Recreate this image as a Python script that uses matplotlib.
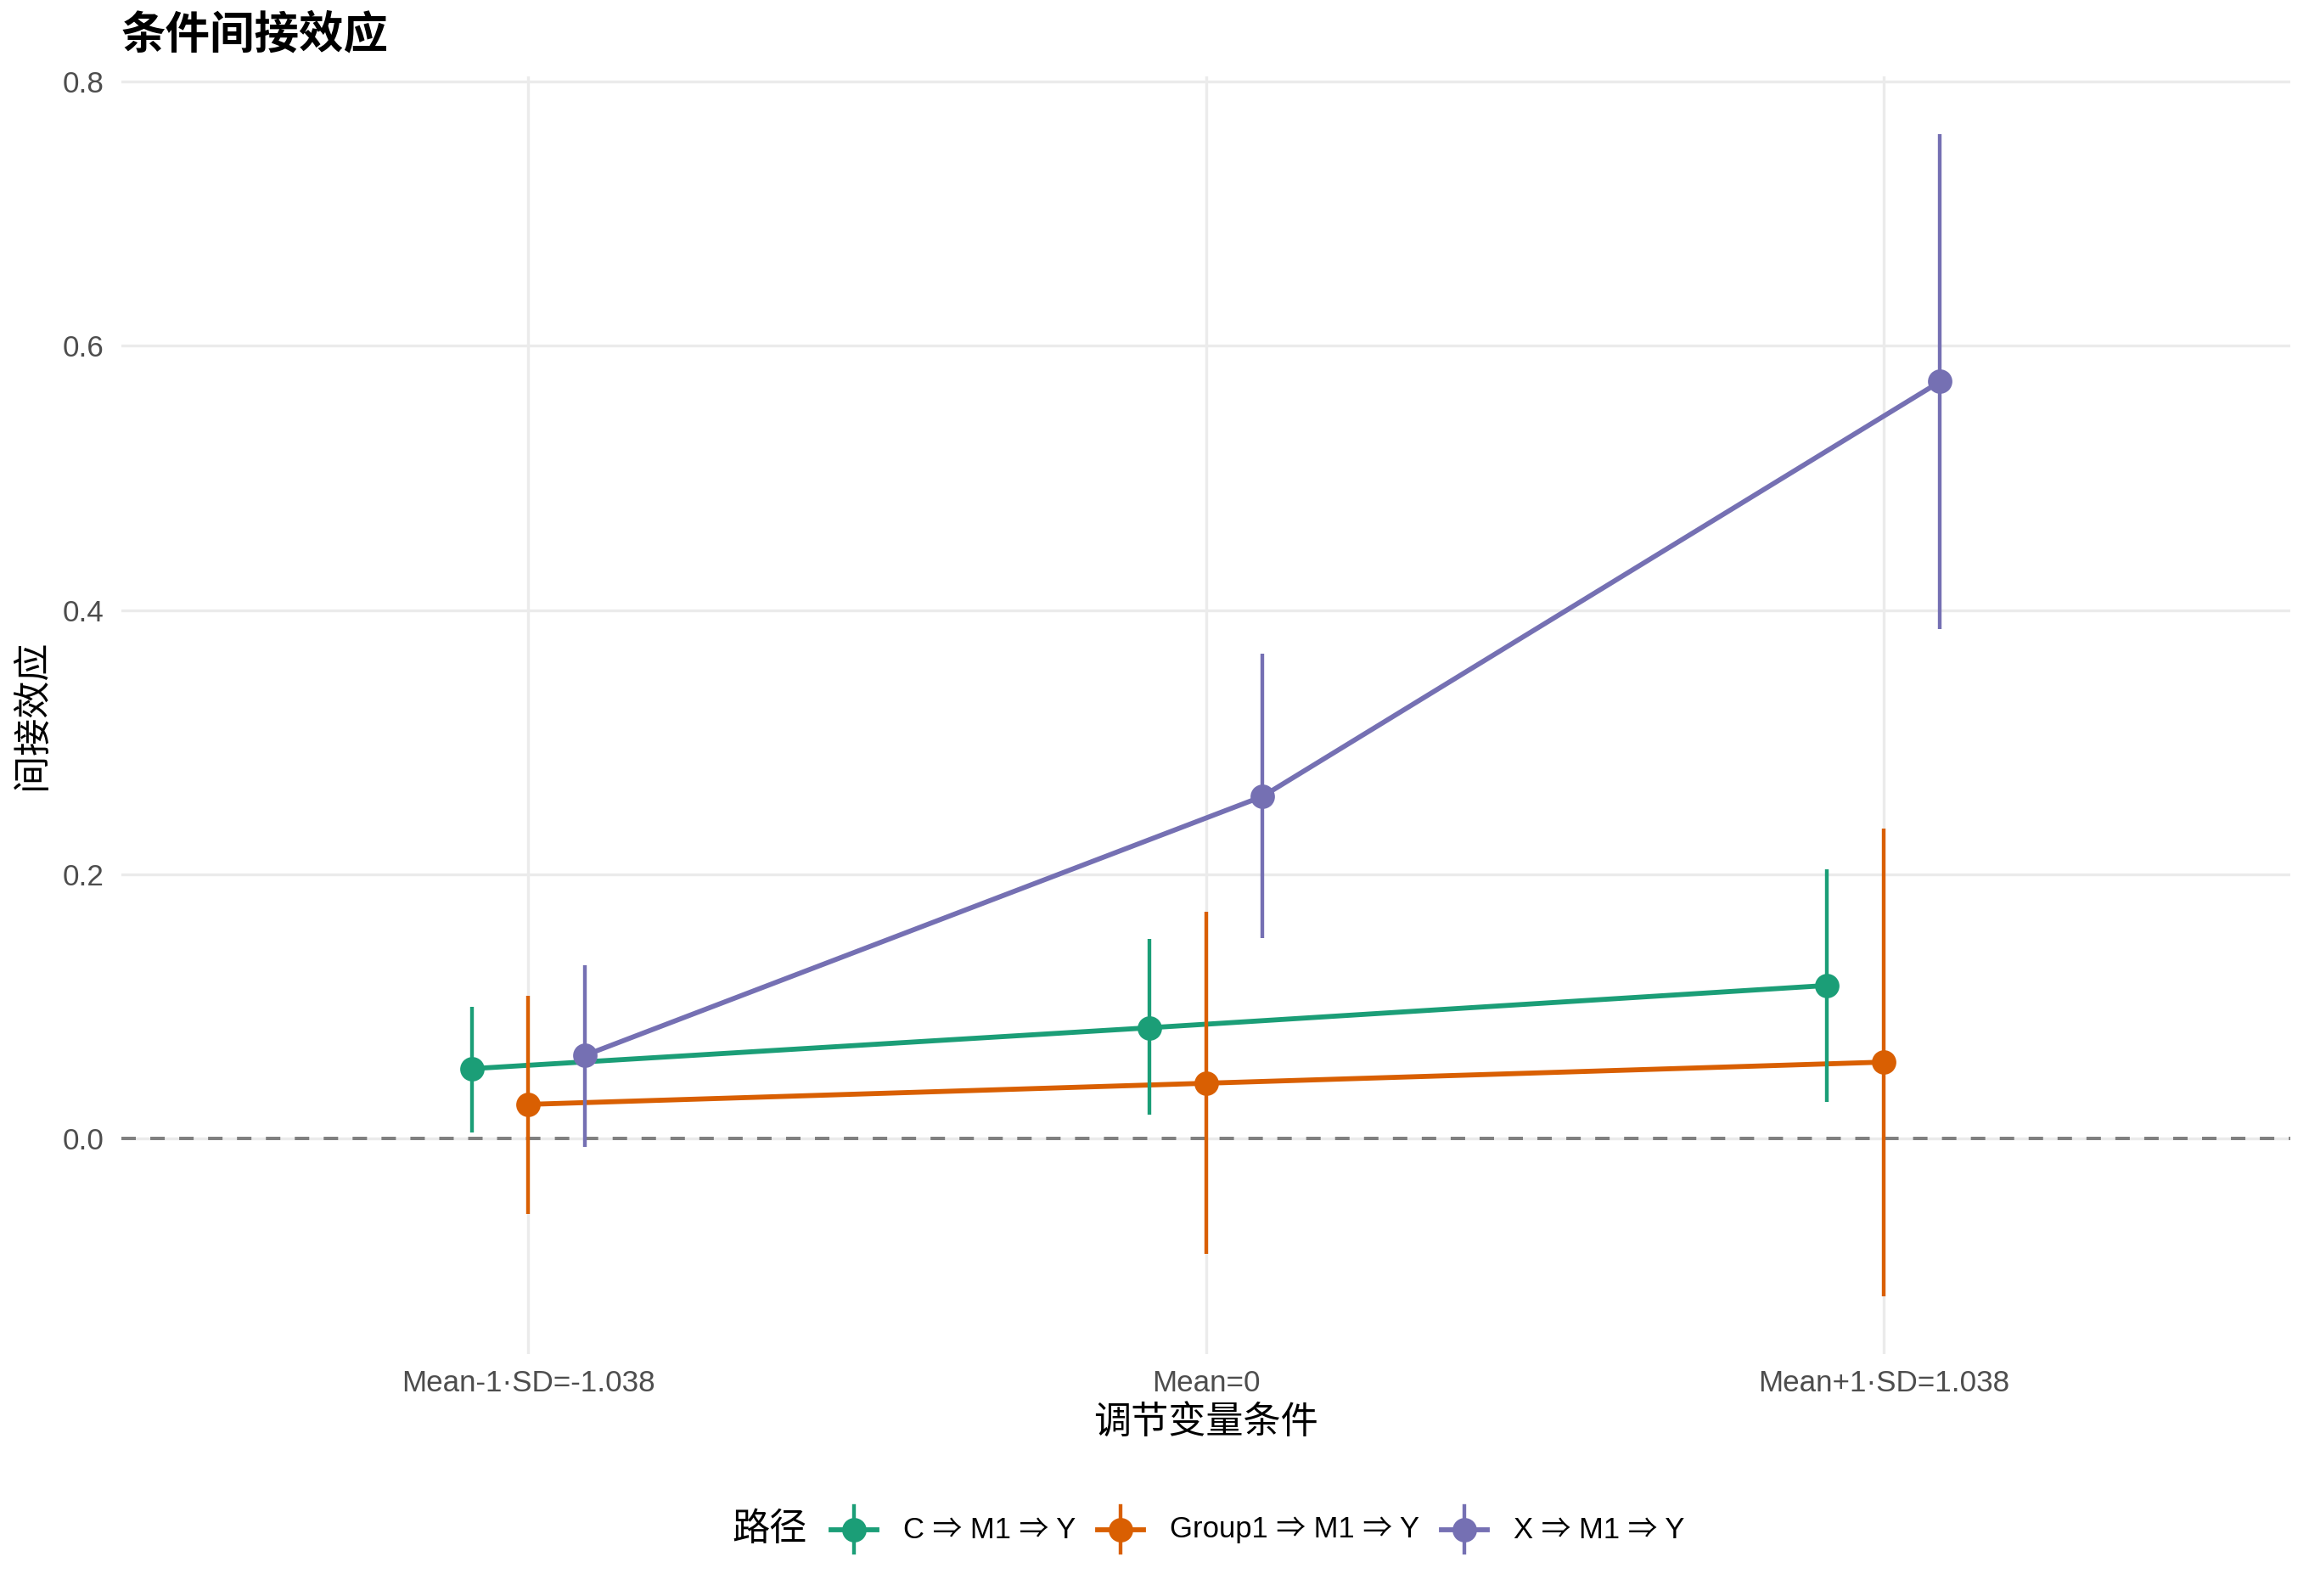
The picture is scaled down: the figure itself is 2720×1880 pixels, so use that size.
import matplotlib
matplotlib.use("Agg")
import matplotlib.pyplot as plt
from matplotlib.lines import Line2D
import numpy as np

plt.rcParams['font.family'] = ['Liberation Sans', 'Noto Sans CJK SC', 'DejaVu Sans']

# ---------------- data ----------------
conditions = ["Mean-1·SD=-1.038", "Mean=0", "Mean+1·SD=1.038"]
paths = ["C ⇒ M1 ⇒ Y", "Group1 ⇒ M1 ⇒ Y", "X ⇒ M1 ⇒ Y"]
colors = ["#1B9E77", "#D95F02", "#7570B3"]

est_c = [0.053, 0.084, 0.116]
lo_c = [0.005, 0.018, 0.028]
hi_c = [0.100, 0.151, 0.204]

est_g = [0.026, 0.042, 0.058]
lo_g = [-0.057, -0.087, -0.119]
hi_g = [0.108, 0.172, 0.235]

est_x = [0.063, 0.259, 0.573]
lo_x = [-0.006, 0.152, 0.386]
hi_x = [0.131, 0.367, 0.760]

estimates = [est_c, est_g, est_x]
lows = [lo_c, lo_g, lo_x]
highs = [hi_c, hi_g, hi_x]

title = "条件间接效应"
xlabel = "调节变量条件"
ylabel = "间接效应"
legend_title = "路径"

# ---------------- figure ----------------
W, H = 2720, 1880
DPI = 300
fig = plt.figure(figsize=(W / DPI, H / DPI), dpi=DPI)
fig.patch.set_facecolor("white")

px_l, px_r, px_t, px_b = 143, 2698, 90, 1595
ax = fig.add_axes([px_l / W, 1 - px_b / H, (px_r - px_l) / W, (px_b - px_t) / H])
ax.set_facecolor("white")

grid_c = "#EBEBEB"
dodge = 0.25
n = len(paths)
base_x = np.arange(1, len(conditions) + 1)
LINE_LW = 1.4
BAR_LW = 1.05
MS = 6.9

# zero reference line
ax.axhline(0, color="#7F7F7F", lw=0.95, dashes=(4.3, 4.3), zorder=2)

# lines
for i in range(n):
    xs = base_x + (i - 1) * dodge / 3
    ax.plot(xs, estimates[i], color=colors[i], lw=LINE_LW, zorder=3,
            solid_capstyle="butt")

# pointranges
for i in range(n):
    xs = base_x + (i - 1) * dodge / 3
    ax.vlines(xs, lows[i], highs[i], color=colors[i], lw=BAR_LW, zorder=4 + i)
    ax.plot(xs, estimates[i], 'o', color=colors[i], ms=MS, mew=0, zorder=4 + i)

# axes limits (ggplot-like expansion)
ymin = min(min(l) for l in lows)
ymax = max(max(h) for h in highs)
rng = ymax - ymin
ax.set_ylim(ymin - 0.05 * rng, ymax + 0.05 * rng)
ax.set_xlim(0.4, len(conditions) + 0.6)

ax.set_yticks([0.0, 0.2, 0.4, 0.6, 0.8])
ax.set_yticklabels(["0.0", "0.2", "0.4", "0.6", "0.8"])
ax.set_xticks(base_x)
ax.set_xticklabels(conditions)
ax.tick_params(length=0, labelsize=8.4, labelcolor="#4D4D4D")
ax.tick_params(axis='y', pad=5)
ax.tick_params(axis='x', pad=4.4)

ax.grid(True, color=grid_c, lw=0.8, zorder=0)
ax.set_axisbelow(True)
for s in ax.spines.values():
    s.set_visible(False)

# titles
fig.text(px_l / W, 1 - 42 / H, title, fontsize=12.6, fontweight="bold",
         ha="left", va="center", color="black")
fig.text((px_l + px_r) / 2 / W, 1 - 1676 / H, xlabel, fontsize=10.6,
         ha="center", va="center", color="black")
fig.text(38 / W, 1 - 842 / H, ylabel, fontsize=10.6, rotation=90,
         ha="center", va="center", color="black")

# legend (manual, figure pixel coords)
ly = 1802
fig.text(862 / W, 1 - ly / H, legend_title, fontsize=10.6, ha="left",
         va="center", color="black")
key_cx = [1006, 1320, 1725]
for i in range(n):
    cx = key_cx[i]
    fig.add_artist(Line2D([(cx - 27) / W, (cx + 27) / W], [1 - ly / H, 1 - ly / H],
                          transform=fig.transFigure, color=colors[i], lw=LINE_LW))
    fig.add_artist(Line2D([cx / W, cx / W], [1 - 1774 / H, 1 - 1829 / H],
                          transform=fig.transFigure, color=colors[i], lw=BAR_LW))
    fig.add_artist(Line2D([cx / W], [1 - ly / H], transform=fig.transFigure,
                          marker='o', ms=MS, mew=0, color=colors[i], lw=0))
    fig.text((cx + 58) / W, 1 - ly / H, paths[i], fontsize=8.3, ha="left",
             va="center", color="black")

fig.savefig("out.png", dpi=DPI, facecolor="white")
